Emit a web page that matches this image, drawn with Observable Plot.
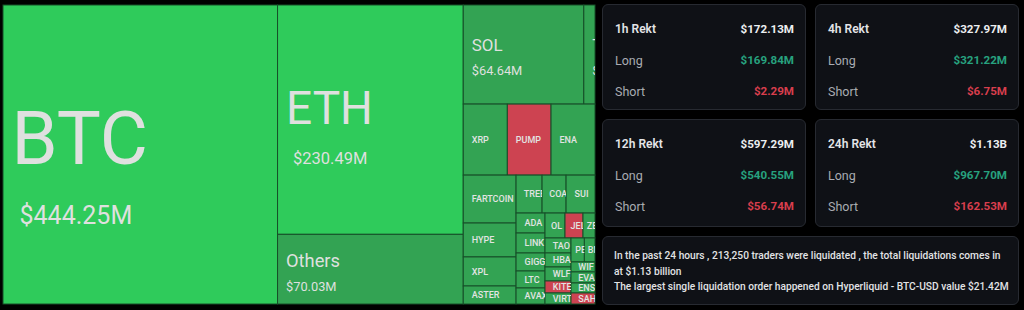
<!DOCTYPE html>
<html>
<head>
<meta charset="utf-8">
<script src="https://cdn.jsdelivr.net/npm/d3@7"></script>
<script src="https://cdn.jsdelivr.net/npm/@observablehq/plot@0.6"></script>
<style>
  html, body { margin: 0; padding: 0; background: #000; width: 1024px; height: 310px; overflow: hidden; font-family: Roboto, "Noto Sans", sans-serif; }
  #chart { position: absolute; left: 0; top: 0; }
  #panels { position: absolute; left: 602px; top: 4px; width: 418px; display: grid;
            grid-template-columns: 204px 204px; grid-template-rows: 106px 108px 69px; column-gap: 9px; row-gap: 9px; }
  .panel { position: relative; background: #0f1116; border: 1px solid #272a31; border-radius: 6px; box-sizing: border-box; }
  .row { position: absolute; left: 12px; right: 11px; height: 16px; display: flex; justify-content: space-between; align-items: center; font-size: 12px; }
  .r0 { top: 16px; } .r1 { top: 47px; } .r2 { top: 78px; }
  .title { color: #e4e5e7; font-weight: 600; }
  .total { color: #eceef0; font-weight: 700; font-size: 11.6px; }
  .lab { color: #a9acb2; font-weight: 400; font-size: 12.5px; }
  .long { color: #27a27f; font-weight: 700; font-size: 11.6px; }
  .short { color: #d83e4d; font-weight: 700; font-size: 11.6px; }
  .summary { grid-column: 1 / span 2; padding: 11px 11px 0 11px; }
  .summary div { color: #e2e3e5; font-size: 10.2px; line-height: 15.5px; font-weight: 500; white-space: nowrap; }
</style>
</head>
<body>
<div id="chart"></div>
<div id="panels"></div>
<script>
// ---------------- Treemap data (liquidations, $M) ----------------
const coinNames = ["BTC", "ETH", "Others", "SOL", "TRUMP", "XRP", "PUMP", "ENA",
  "FARTCOIN", "HYPE", "XPL", "ASTER", "TREE", "COAI", "SUI",
  "ADA", "LINK", "GIGGLE", "LTC", "AVAX", "OL", "JELLYJELLY", "ZEC",
  "TAO", "HBAR", "WLFI", "KITE", "VIRTUAL", "PENGU", "BNB", "WIF", "EVAA", "ENS", "SAHARA"];
const coinValues = [444.25, 230.49, 70.03, 64.64, 6.0, 16.95, 16.8, 16.9,
  13.7, 9.7, 8.3, 5.15, 5.34, 4.93, 5.94,
  3.13, 3.13, 2.82, 2.66, 2.51, 2.70, 2.43, 1.62,
  2.11, 1.97, 1.97, 1.69, 1.55, 1.73, 1.38, 1.30, 1.43, 1.30, 1.43];
// dominant side / intensity of each cell
const coinTones = ["strong", "strong", "normal", "normal", "normal", "normal", "short", "normal",
  "normal", "normal", "normal", "normal", "normal", "normal", "normal",
  "normal", "normal", "normal", "normal", "normal", "normal", "short", "normal",
  "normal", "normal", "normal", "short", "normal", "normal", "normal", "normal", "normal", "normal", "short"];
// nesting of the slice-and-dice layout
const coinGroups = ["", "c2", "c2", "c3/a", "c3/a", "c3/b", "c3/b", "c3/b",
  "c3/c/c1", "c3/c/c1", "c3/c/c1", "c3/c/c1", "c3/c/c2/d", "c3/c/c2/d", "c3/c/c2/d",
  "c3/c/c2/e/e1", "c3/c/c2/e/e1", "c3/c/c2/e/e1", "c3/c/c2/e/e1", "c3/c/c2/e/e1",
  "c3/c/c2/e/e2/f", "c3/c/c2/e/e2/f", "c3/c/c2/e/e2/f",
  "c3/c/c2/e/e2/g/g1", "c3/c/c2/e/e2/g/g1", "c3/c/c2/e/e2/g/g1", "c3/c/c2/e/e2/g/g1", "c3/c/c2/e/e2/g/g1",
  "c3/c/c2/e/e2/g/g2/h", "c3/c/c2/e/e2/g/g2/h",
  "c3/c/c2/e/e2/g/g2", "c3/c/c2/e/e2/g/g2", "c3/c/c2/e/e2/g/g2", "c3/c/c2/e/e2/g/g2"];

// ---------------- Rekt panels data ----------------
const rektPeriods = ["1h Rekt", "4h Rekt", "12h Rekt", "24h Rekt"];
const rektTotal = ["$172.13M", "$327.97M", "$597.29M", "$1.13B"];
const rektLong = ["$169.84M", "$321.22M", "$540.55M", "$967.70M"];
const rektShort = ["$2.29M", "$6.75M", "$56.74M", "$162.53M"];
const rowLabels = ["Long", "Short"];
const summaryLines = [
  "In the past 24 hours , 213,250 traders were liquidated , the total liquidations comes in",
  "at $1.13 billion",
  "The largest single liquidation order happened on Hyperliquid - BTC-USD value $21.42M"
];

// ---------------- Styles ----------------
const toneKeys = ["strong", "normal", "short"];
const toneColors = ["#2fcb5b", "#33a353", "#cd4351"];
const bigLabel = {
  BTC:    {nameSize: 74, valueSize: 25, nameDy: 8.5, valueDy: 68.5, valueDx: 8},
  ETH:    {nameSize: 46, valueSize: 16.5, nameDy: 3.5, valueDy: 43.5, valueDx: 7},
  Others: {nameSize: 18.3, valueSize: 12.8, nameDy: -3, valueDy: 21, valueDx: 0},
  SOL:    {nameSize: 16.9, valueSize: 12.8, nameDy: -4.5, valueDy: 19.5, valueDx: 0},
  TRUMP:  {nameSize: 16.9, valueSize: 12.8, nameDy: -4.5, valueDy: 19.5, valueDx: 0}
};
const labelPad = 8;

// ---------------- Layout ----------------
const width = 600, height = 310;
const margin = {left: 3, right: 5, top: 5, bottom: 6};
const W = width - margin.left - margin.right;
const H = height - margin.top - margin.bottom;

const rootNode = {name: "root", children: []};
const groupMap = new Map([["", rootNode]]);
function groupFor(path) {
  if (groupMap.has(path)) return groupMap.get(path);
  const parts = path.split("/");
  const parent = groupFor(parts.slice(0, -1).join("/"));
  const g = {name: path, children: []};
  parent.children.push(g);
  groupMap.set(path, g);
  return g;
}
coinNames.forEach((n, i) => groupFor(coinGroups[i]).children.push({name: n, value: coinValues[i], tone: coinTones[i]}));

const hier = d3.hierarchy(rootNode).sum(d => d.value || 0);
d3.treemap().tile(d3.treemapSliceDice).size([W, H]).round(false)(hier);
const cells = hier.leaves().map((l, index) => ({
  index, name: l.data.name, value: l.data.value, tone: l.data.tone,
  x0: l.x0, x1: l.x1, y0: l.y0, y1: l.y1, cy: (l.y0 + l.y1) / 2
}));
const bigCells = cells.filter(c => bigLabel[c.name]);
const smallCells = cells.filter(c => !bigLabel[c.name]);
const fmtValue = v => "$" + d3.format(".2f")(v) + "M";

const chart = Plot.plot({
  width, height,
  marginLeft: margin.left, marginRight: margin.right, marginTop: margin.top, marginBottom: margin.bottom,
  x: {domain: [0, W], axis: null},
  y: {domain: [0, H], reverse: true, axis: null},
  color: {domain: toneKeys, range: toneColors},
  style: {background: "#000", fontFamily: "Roboto, sans-serif"},
  marks: [
    Plot.rect(cells, {x1: "x0", x2: "x1", y1: "y0", y2: "y1", fill: "tone", stroke: "#174f29", strokeWidth: 1}),
    Plot.text(bigCells, {
      x: d => d.x0 + labelPad, y: d => d.cy + bigLabel[d.name].nameDy,
      text: "name", fontSize: d => bigLabel[d.name].nameSize,
      textAnchor: "start", lineAnchor: "bottom", fill: "#dfe0df", fontWeight: 400
    }),
    Plot.text(bigCells, {
      x: d => d.x0 + labelPad + bigLabel[d.name].valueDx, y: d => d.cy + bigLabel[d.name].valueDy,
      text: d => fmtValue(d.value), fontSize: d => bigLabel[d.name].valueSize,
      textAnchor: "start", lineAnchor: "bottom", fill: "#dfe0df", fontWeight: 400
    }),
    Plot.text(smallCells, {
      x: d => d.x0 + Math.min(labelPad, (d.x1 - d.x0) * 0.28), y: "cy",
      text: "name", fontSize: 9, textAnchor: "start", lineAnchor: "middle",
      fill: "#e2e4e2", fontWeight: 500
    })
  ]
});
document.getElementById("chart").appendChild(chart);

// clip every label to its own cell: wrap each text in a clipped group
const ns = "http://www.w3.org/2000/svg";
const sx = chart.scale("x"), sy = chart.scale("y");
const defs = document.createElementNS(ns, "defs");
chart.insertBefore(defs, chart.firstChild);
cells.forEach(c => {
  const cp = document.createElementNS(ns, "clipPath");
  cp.setAttribute("id", "cell-clip-" + c.index);
  cp.setAttribute("clipPathUnits", "userSpaceOnUse");
  const r = document.createElementNS(ns, "rect");
  const X0 = sx.apply(c.x0), X1 = sx.apply(c.x1), Ya = sy.apply(c.y0), Yb = sy.apply(c.y1);
  r.setAttribute("x", X0 + 0.5);
  r.setAttribute("y", Math.min(Ya, Yb) + 0.5);
  r.setAttribute("width", Math.max(0, X1 - X0 - 1));
  r.setAttribute("height", Math.max(0, Math.abs(Yb - Ya) - 1));
  cp.appendChild(r);
  defs.appendChild(cp);
});
const markGroups = Array.from(chart.children).filter(e => e.tagName.toLowerCase() === "g");
const textGroups = markGroups.filter(g => g.querySelector("text"));
const labelLists = [bigCells, bigCells, smallCells];
textGroups.forEach((g, m) => {
  const list = labelLists[m] || [];
  Array.from(g.querySelectorAll("text")).forEach((t, j) => {
    if (!list[j]) return;
    const wrap = document.createElementNS(ns, "g");
    wrap.setAttribute("clip-path", `url(#cell-clip-${list[j].index})`);
    t.parentNode.insertBefore(wrap, t);
    wrap.appendChild(t);
  });
});

// ---------------- Panels ----------------
const panels = document.getElementById("panels");
rektPeriods.forEach((p, i) => {
  const div = document.createElement("div");
  div.className = "panel";
  div.innerHTML =
    `<div class="row r0"><span class="title">${p}</span><span class="total">${rektTotal[i]}</span></div>` +
    `<div class="row r1"><span class="lab">${rowLabels[0]}</span><span class="long">${rektLong[i]}</span></div>` +
    `<div class="row r2"><span class="lab">${rowLabels[1]}</span><span class="short">${rektShort[i]}</span></div>`;
  panels.appendChild(div);
});
const summary = document.createElement("div");
summary.className = "panel summary";
summaryLines.forEach(line => {
  const d = document.createElement("div");
  d.textContent = line;
  summary.appendChild(d);
});
panels.appendChild(summary);
</script>
</body>
</html>
